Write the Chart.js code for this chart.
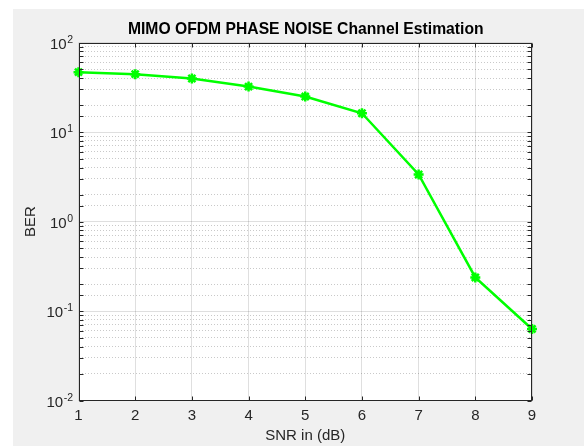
<!DOCTYPE html>
<html>
<head>
<meta charset="utf-8">
<script src="https://cdn.jsdelivr.net/npm/chart.js@4"></script>
<style>
html,body{margin:0;padding:0;background:#ffffff;}
#wrap{position:absolute;left:0;top:0;width:584px;height:446px;}
</style>
</head>
<body>
<div id="wrap"><canvas id="c" width="584" height="446"></canvas></div>
<script>
// ---- data ----
const snrDb = [1, 2, 3, 4, 5, 6, 7, 8, 9];
const berValues = [46.6, 44.3, 39.6, 32.2, 24.9, 16.2, 3.35, 0.237, 0.063];
const xTickValues = [1, 2, 3, 4, 5, 6, 7, 8, 9];
const yTickExponents = [-2, -1, 0, 1, 2];
const titleText = 'MIMO OFDM PHASE NOISE Channel Estimation';
const xLabelText = 'SNR in (dB)';
const yLabelText = 'BER';

const FONT = "'Liberation Sans', Arial, Helvetica, sans-serif";
const AXIS = '#262626';
const MAJOR = 'rgba(38,38,38,0.15)';
const MINOR = 'rgba(38,38,38,0.25)';

function isPow10(v) {
  const l = Math.log10(v);
  return Math.abs(l - Math.round(l)) < 1e-6;
}

const decor = {
  id: 'decor',
  beforeDraw(chart) {
    const {ctx, chartArea: a} = chart;
    ctx.save();
    ctx.fillStyle = '#ffffff';
    ctx.fillRect(0, 0, 584, 446);
    ctx.fillStyle = '#f0f0f0';
    ctx.fillRect(13, 9, 571, 437);
    ctx.fillStyle = '#ffffff';
    ctx.fillRect(a.left, a.top, a.right - a.left, a.bottom - a.top);
    ctx.restore();
  },
  afterDraw(chart) {
    const {ctx, chartArea: a} = chart;
    const xs = chart.scales.x, ys = chart.scales.y;
    const L = Math.round(a.left) + 0.5, R = Math.round(a.right) - 0.5;
    const T = Math.round(a.top) + 0.5, B = Math.round(a.bottom) - 0.5;
    ctx.save();
    ctx.strokeStyle = AXIS;
    ctx.lineWidth = 1;
    // inward ticks
    const tl = 4;
    ctx.beginPath();
    xs.ticks.forEach(t => {
      const px = Math.round(xs.getPixelForValue(t.value)) + 0.5;
      ctx.moveTo(px, B); ctx.lineTo(px, B - tl);
      ctx.moveTo(px, T); ctx.lineTo(px, T + tl);
    });
    ys.ticks.forEach(t => {
      const py = Math.round(ys.getPixelForValue(t.value)) + 0.5;
      ctx.moveTo(L, py); ctx.lineTo(L + tl, py);
      ctx.moveTo(R, py); ctx.lineTo(R - tl, py);
    });
    ctx.stroke();
    // box
    ctx.strokeRect(L, T, R - L, B - T);
    // y tick labels 10^n
    ctx.fillStyle = AXIS;
    ctx.textBaseline = 'alphabetic';
    const rightEdge = 72.5;
    yTickExponents.forEach(e => {
      const py = ys.getPixelForValue(Math.pow(10, e));
      const expStr = String(e);
      ctx.font = '10.5px ' + FONT;
      const ew = ctx.measureText(expStr).width;
      ctx.font = '15px ' + FONT;
      const bw = ctx.measureText('10').width;
      const x0 = rightEdge - ew - bw;
      ctx.textAlign = 'left';
      ctx.fillText('10', x0, py + 6);
      ctx.font = '10.5px ' + FONT;
      ctx.fillText(expStr, x0 + bw + 0.5, py + 0.3);
    });
    // title over the plot area
    ctx.font = 'bold 15.7px ' + FONT;
    ctx.textAlign = 'center';
    ctx.textBaseline = 'alphabetic';
    ctx.fillStyle = '#000000';
    ctx.fillText(titleText, (a.left + a.right) / 2 + 0.5, 33.5);
    ctx.restore();
  }
};

new Chart(document.getElementById('c'), {
  type: 'line',
  data: {
    datasets: [{
      data: snrDb.map((x, i) => ({x: x, y: berValues[i]})),
      borderColor: '#00ff00',
      backgroundColor: '#00ff00',
      borderWidth: 2.5,
      pointStyle: 'star',
      pointRadius: 5,
      pointBorderWidth: 2.5,
      pointBorderColor: '#00ff00',
      pointBackgroundColor: '#00ff00',
      tension: 0,
      fill: false,
      clip: false
    }]
  },
  options: {
    responsive: false,
    animation: false,
    devicePixelRatio: 1,
    layout: {padding: {left: 0, top: 42.5, right: 52, bottom: 0}},
    plugins: {legend: {display: false}, title: {display: false}, tooltip: {enabled: false}},
    scales: {
      x: {
        type: 'linear',
        min: 1, max: 9,
        afterBuildTicks: s => { s.ticks = xTickValues.map(v => ({value: v})); },
        ticks: {
          color: AXIS,
          font: {family: FONT, size: 15},
          padding: 6,
          autoSkip: false,
          maxRotation: 0,
          callback: v => String(v)
        },
        grid: {color: MAJOR, lineWidth: 1, drawTicks: false},
        border: {display: false},
        title: {display: true, text: xLabelText, color: AXIS, font: {family: FONT, size: 15}, padding: {top: 0, bottom: 1}},
        afterFit: s => { s.height = 45.5; }
      },
      y: {
        type: 'logarithmic',
        min: 0.01, max: 100,
        ticks: {display: false, autoSkip: false},
        grid: {
          color: ctx => (ctx.tick && !isPow10(ctx.tick.value)) ? MINOR : MAJOR,
          lineWidth: 1,
          drawTicks: false
        },
        border: {
          display: false,
          dash: ctx => (ctx.tick && !isPow10(ctx.tick.value)) ? [1, 2] : []
        },
        title: {display: true, text: yLabelText, color: AXIS, font: {family: FONT, size: 15}, padding: {top: 22, bottom: 0}},
        afterFit: s => { s.width = 78.5; }
      }
    }
  },
  plugins: [decor]
});
</script>
</body>
</html>
